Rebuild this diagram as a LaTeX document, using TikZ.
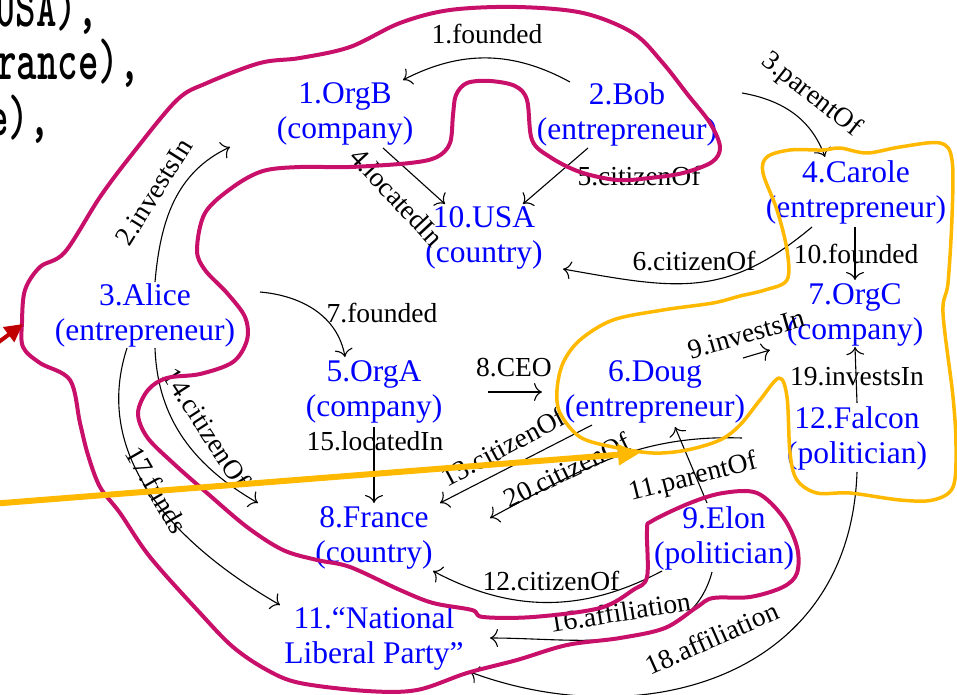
\documentclass[tikz,border=0pt]{standalone}
\usepackage{fontspec}
\setmainfont{Liberation Serif}
\usetikzlibrary{arrows.meta,calc}
\definecolor{ringmagenta}{RGB}{200,16,106}
\definecolor{ringgold}{RGB}{255,185,0}
\definecolor{pointred}{RGB}{192,0,0}
\begin{document}
\begin{tikzpicture}[x=1pt,y=1pt,
  entity/.style={text=blue, align=center, inner sep=0pt, font=\fontsize{31.5}{35}\selectfont},
  lbl/.style={inner sep=0pt, font=\fontsize{27.5}{30}\selectfont},
  rel/.style={line width=1.1pt, -{To[length=8pt,width=18pt]}},
  ringA/.style={draw=ringmagenta, line width=4pt, line join=round},
  ringB/.style={draw=ringgold, line width=3.5pt, line join=round},
  listing/.style={inner sep=0pt, anchor=base east, transform shape, yscale=1.5,
    font=\fontsize{39}{40}\selectfont\ttfamily\bfseries},
]
\fill[white] (0,0) rectangle (957,-695);
\useasboundingbox (0,0) rectangle (957,-695);

% fragments of the triple list on the left
\node[listing] (t1) at (98,-27) {USA),};
\node[listing] (t2) at (140,-80) {rance),};
\node[listing] (t3) at (50,-136) {e),};

% entities
\node[entity] (orgB)   at (345,-114) {1.OrgB\\(company)};
\node[entity] (bob)    at (627,-114) {2.Bob\\(entrepreneur)};
\node[entity] (carole) at (856,-192) {4.Carole\\(entrepreneur)};
\node[entity] (usa)    at (484,-238) {10.USA\\(country)};
\node[entity] (alice)  at (145,-315) {3.Alice\\(entrepreneur)};
\node[entity] (orgC)   at (855,-315) {7.OrgC\\(company)};
\node[entity] (orgA)   at (374,-392) {5.OrgA\\(company)};
\node[entity] (doug)   at (655,-392) {6.Doug\\(entrepreneur)};
\node[entity] (falcon) at (857,-438) {12.Falcon\\(politician)};
\node[entity] (france) at (374,-538) {8.France\\(country)};
\node[entity] (elon)   at (724,-538) {9.Elon\\(politician)};
\node[entity] (party)  at (374,-638) {11.“National\\Liberal Party”};

% relations
\draw[rel] ($(bob)+(-57,32)$) to[bend right=28] ($(orgB)+(58,34)$)
  node[lbl] at (487,-34) {1.founded};
\draw[rel] ($(alice)+(10,33)$) to[out=85,in=205] ($(orgB)+(-115,-33)$)
  node[lbl,rotate=58] at (154,-192) {2.investsIn};
\draw[rel] ($(bob)+(115,21)$) to[out=-10,in=110] ($(carole)+(-31,35)$)
  node[lbl,rotate=-38] at (811,-95) {3.parentOf};
\draw[rel] ($(orgB)+(38,-34)$) -- ($(usa)+(-39,34)$)
  node[lbl,rotate=-47] at (397,-197) {4.locatedIn};
\draw[rel] ($(bob)+(-39,-34)$) -- ($(usa)+(39,34)$)
  node[lbl] at (639,-176) {5.citizenOf};
\draw[rel] ($(carole)+(-44,-35)$) to[out=-140,in=-10,looseness=1.15] ($(usa)+(79,-31)$)
  node[lbl] at (694,-261) {6.citizenOf};
\draw[rel] ($(alice)+(115,23)$) to[out=-5,in=100] ($(orgA)+(-29,35)$)
  node[lbl] at (382,-313) {7.founded};
\draw[rel] ($(orgA)+(114,0)$) -- ($(doug)+(-113,0)$)
  node[lbl] at (514,-368) {8.CEO};
\draw[rel] ($(doug)+(88,34)$) -- ($(orgC)+(-85,-35)$)
  node[lbl,rotate=16] at (746,-334) {9.investsIn};
\draw[rel] ($(carole)+(-1,-35)$) -- ($(orgC)+(0,35)$)
  node[lbl] at (856,-254) {10.founded};
\draw[rel] ($(elon)+(-17,35)$) -- ($(doug)+(20,-35)$)
  node[lbl,rotate=14] at (693,-478) {11.parentOf};
\draw[rel] ($(elon)+(-62,-33)$) to[bend left=28] ($(france)+(59,-33)$)
  node[lbl] at (551,-581) {12.citizenOf};
\draw[rel] ($(doug)+(-63,-33)$) -- ($(france)+(66,35)$)
  node[lbl,rotate=28] at (503,-447) {13.citizenOf};
\draw[rel] ($(alice)+(10,-33)$) to[out=-88,in=150] ($(france)+(-116,35)$)
  node[lbl,rotate=-57] at (207,-428) {14.citizenOf};
\draw[rel] ($(orgA)+(0,-35)$) -- ($(france)+(0,35)$)
  node[lbl] at (375,-441) {15.locatedIn};
\draw[rel] ($(elon)+(-12,-34)$) to[out=-105,in=0] ($(party)+(116,0)$)
  node[lbl,rotate=9] at (620,-612) {16.affiliation};
\draw[rel] ($(alice)+(-18,-33)$) to[out=-108,in=150] ($(party)+(-94,33)$)
  node[lbl,rotate=-60] at (157,-490) {17.funds};
\draw[rel] ($(falcon)+(0,-34)$) .. controls (850,-680) and (640,-735) .. ($(party)+(96,-34)$)
  node[lbl,rotate=24] at (712,-638) {18.affiliation};
\draw[rel] ($(falcon)+(0,35)$) -- ($(orgC)+(0,-32)$)
  node[lbl] at (857,-377) {19.investsIn};
\draw[rel] ($(falcon)+(-115,0)$) to[out=178,in=28] ($(france)+(116,20)$)
  node[lbl,rotate=26] at (567,-470) {20.citizenOf};

% hand-drawn grouping rings
\draw[ringA] plot[smooth cycle, tension=0.55] coordinates {
  (22,-322) (25,-290) (40,-267) (65,-252) (100,-197) (133,-153) (177,-100)
  (207,-83) (260,-63) (300,-58) (350,-47) (400,-23) (450,-10) (517,-7)
  (583,-13) (633,-33) (662,-62) (688,-95) (710,-123) (720,-147) (712,-162)
  (683,-173) (650,-178) (617,-180) (580,-172) (550,-157) (532,-140) (527,-100)
  (515,-86) (490,-81) (467,-83) (456,-95) (453,-115) (450,-143) (437,-157)
  (410,-163) (350,-167) (300,-167) (263,-171) (233,-187) (205,-213) (197,-250)
  (205,-270) (227,-293) (245,-317) (247,-340) (233,-362) (200,-374) (167,-378)
  (148,-390) (138,-413) (147,-437) (173,-463) (207,-493) (247,-527) (283,-550)
  (317,-560) (350,-567) (400,-590) (433,-603) (472,-610) (483,-617) (533,-617)
  (600,-608) (633,-590) (647,-577) (647,-530) (652,-521) (690,-503) (723,-493)
  (757,-493) (783,-517) (797,-547) (797,-573) (783,-587) (750,-597) (713,-598)
  (697,-607) (665,-628) (620,-638) (567,-645) (517,-660) (467,-673) (417,-690)
  (367,-691) (300,-683) (267,-670) (233,-647) (200,-613) (150,-557) (120,-513)
  (100,-487) (88,-455) (80,-423) (70,-380) (40,-363) (23,-347)};
\draw[ringB] plot[smooth cycle, tension=0.55] coordinates {
  (767,-157) (790,-150) (823,-150) (840,-148) (867,-153) (900,-147) (940,-143)
  (952,-160) (952,-217) (948,-283) (943,-313) (953,-397) (956,-447) (953,-487)
  (933,-500) (900,-500) (850,-493) (817,-493) (797,-480) (790,-453) (787,-397)
  (779,-378) (760,-400) (740,-425) (720,-440) (687,-450) (653,-453) (613,-447)
  (580,-437) (560,-413) (557,-390) (563,-363) (580,-340) (613,-320) (663,-310)
  (713,-303) (740,-296) (765,-290) (787,-280) (787,-250) (777,-210) (763,-173)};

% pointer arrows coming in from the left
\coordinate (goldTail) at (-10,-504);
\coordinate (goldHead) at (640,-453);
\draw[ringgold, line width=6pt, -{Triangle[length=22pt,width=20pt]}] (goldTail) -- (goldHead);
\coordinate (redTail) at (-16,-353);
\coordinate (redHead) at (23,-324);
\draw[pointred, line width=4pt, -{Triangle[length=18pt,width=18pt]}] (redTail) -- (redHead);
\end{tikzpicture}
\end{document}
